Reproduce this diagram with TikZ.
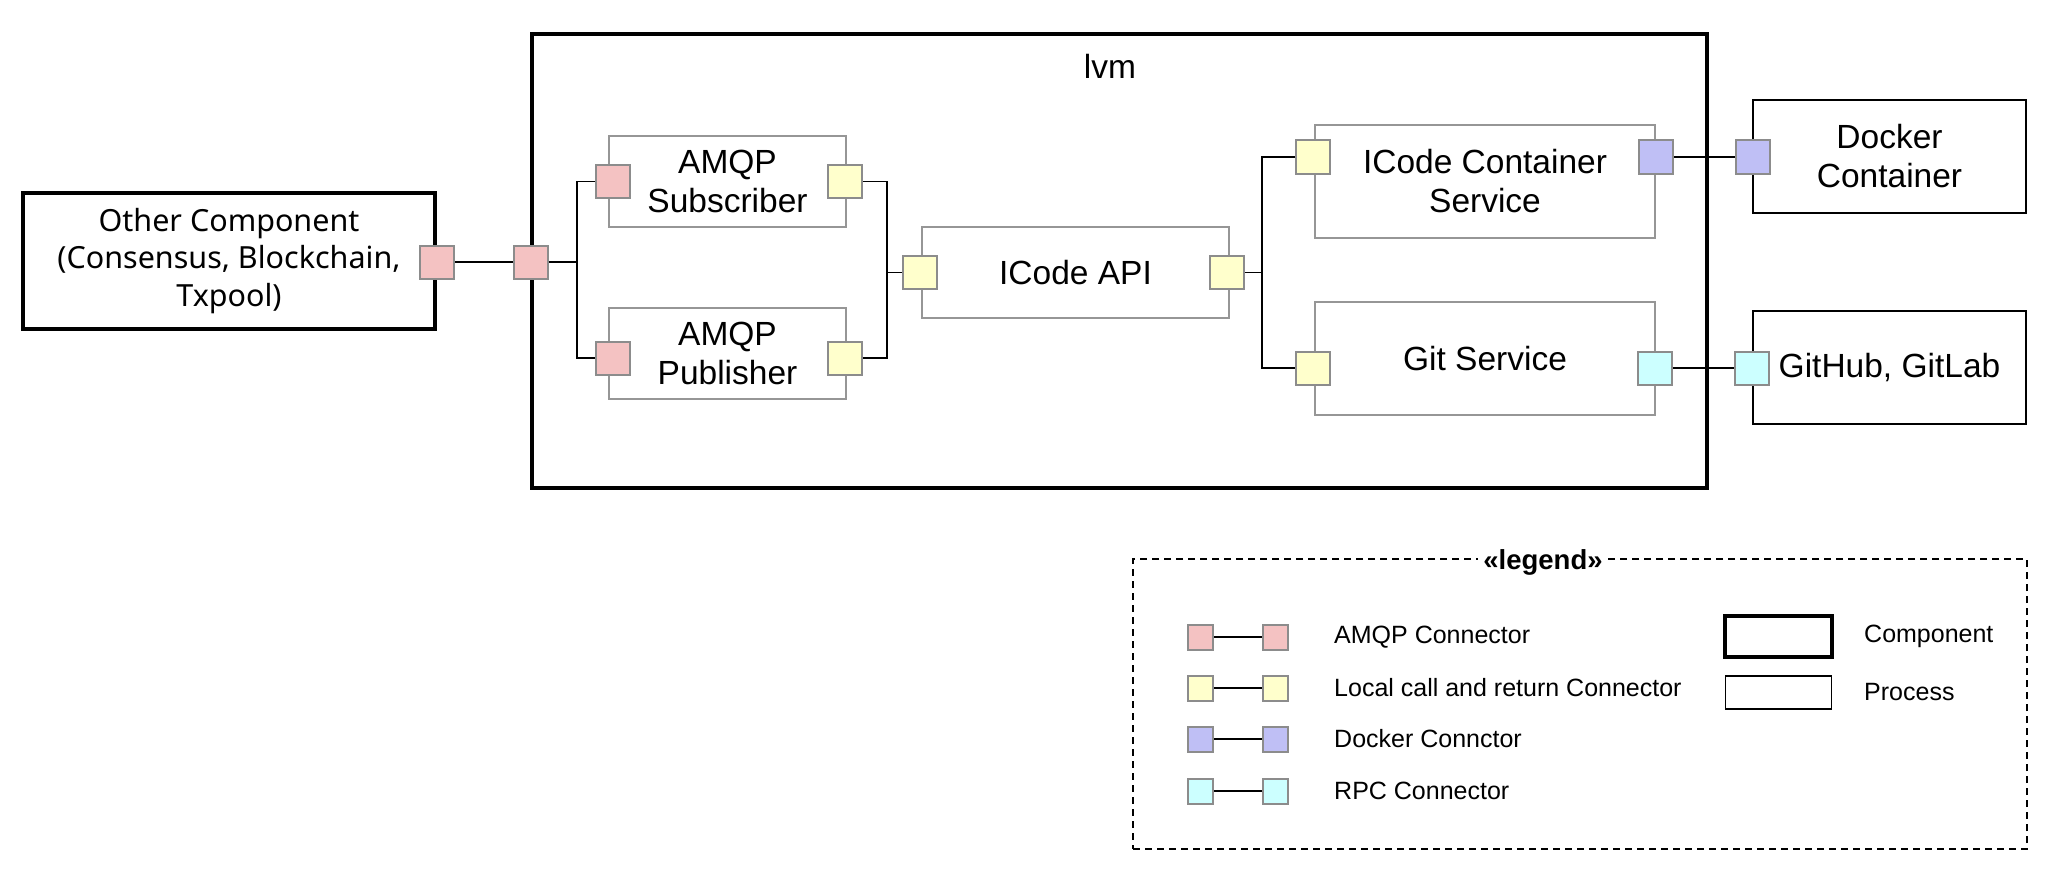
\documentclass[tikz,border=0pt]{standalone}
\usepackage{fontspec}
\setmainfont{Liberation Sans}
\newfontfamily\otherfont{Noto Sans}
\definecolor{amqpc}{RGB}{244,194,194}
\definecolor{localc}{RGB}{255,255,204}
\definecolor{dockc}{RGB}{191,191,245}
\definecolor{rpcc}{RGB}{204,255,255}
\definecolor{portborder}{RGB}{140,140,140}
\definecolor{procborder}{RGB}{150,150,150}
\begin{document}
\begin{tikzpicture}[x=1pt,y=-1pt,
  port/.style={draw=portborder, line width=2pt, minimum width=34pt, minimum height=33pt, inner sep=0pt},
  lport/.style={port, minimum width=25pt, minimum height=25pt},
  proc/.style={draw=procborder, line width=2pt, align=center, inner sep=0pt, font=\fontsize{33.5}{39}\selectfont},
  comp/.style={draw=black, line width=3.3pt, align=center, inner sep=0pt},
  ext/.style={draw=black, line width=2pt, align=center, inner sep=0pt, font=\fontsize{33.5}{39}\selectfont},
  wire/.style={draw=black, line width=1.7pt},
  legtext/.style={anchor=west, inner sep=0pt, font=\fontsize{25}{30}\selectfont}]
\useasboundingbox[fill=white] (0,0) rectangle (2064,872);

% components and processes
\node[comp, minimum width=412pt, minimum height=136pt, font=\otherfont\fontsize{30.5}{37.5}\selectfont] (other) at (229,261) {Other Component\\(Consensus, Blockchain,\\Txpool)};
\node[comp, minimum width=1175pt, minimum height=454pt] (lvm) at (1119.5,261) {};
\node[inner sep=0pt, font=\fontsize{33.5}{39}\selectfont] (lvmlabel) at (1110,66) {lvm};
\node[proc, minimum width=237pt, minimum height=91pt] (sub) at (727.5,181.5) {AMQP\\Subscriber};
\node[proc, minimum width=237pt, minimum height=91pt] (pub) at (727.5,353.5) {AMQP\\Publisher};
\node[proc, minimum width=307pt, minimum height=91pt] (api) at (1075.5,272.5) {ICode API};
\node[proc, minimum width=340pt, minimum height=113pt] (cs) at (1485,181.5) {ICode Container\\Service};
\node[proc, minimum width=340pt, minimum height=113pt] (gs) at (1485,358.5) {Git Service};
\node[ext, minimum width=273pt, minimum height=113pt] (dock) at (1889.5,156.5) {Docker\\Container};
\node[ext, minimum width=273pt, minimum height=113pt] (gh) at (1889.5,367.5) {GitHub, GitLab};

% ports
\node[port, fill=amqpc] (op) at (437,262) {};
\node[port, fill=amqpc] (lp) at (530.5,262) {};
\node[port, fill=amqpc] (sl) at (613,181.5) {};
\node[port, fill=localc] (sr) at (845,181.5) {};
\node[port, fill=amqpc] (pl) at (613,358) {};
\node[port, fill=localc] (pr) at (845,358) {};
\node[port, fill=localc] (apil) at (920,272.5) {};
\node[port, fill=localc] (apir) at (1227,272.5) {};
\node[port, fill=localc] (csl) at (1313,157) {};
\node[port, fill=dockc] (csr) at (1656,157) {};
\node[port, fill=localc] (gsl) at (1313,368) {};
\node[port, fill=rpcc] (gsr) at (1655,368) {};
\node[port, fill=dockc] (dkp) at (1753,157) {};
\node[port, fill=rpcc] (ghp) at (1752,368) {};

% junctions
\coordinate (j1) at (577,262);
\coordinate (j2) at (887,272.5);
\coordinate (j3) at (1262,272.5);

% connectors
\draw[wire] (op.east) -- (lp.west);
\draw[wire] (lp.east) -- (j1);
\draw[wire] (sl.west) -| (j1) |- (pl.west);
\draw[wire] (sr.east) -| (j2) |- (pr.east);
\draw[wire] (j2) -- (apil.west);
\draw[wire] (apir.east) -- (j3);
\draw[wire] (csl.west) -| (j3) |- (gsl.west);
\draw[wire] (csr.east) -- (dkp.west);
\draw[wire] (gsr.east) -- (ghp.west);

% legend
\node[draw=black, line width=1.5pt, dash pattern=on 7pt off 5pt, minimum width=894pt, minimum height=290pt] (legend) at (1580,704) {};
\node[fill=white, inner sep=5pt, font=\bfseries\fontsize{27.5}{32}\selectfont] (legtitle) at (1543,562) {«legend»};

\node[lport, fill=amqpc] (la1) at (1200.5,637) {};
\node[lport, fill=amqpc] (lb1) at (1275.5,637) {};
\draw[wire] (la1.east) -- (lb1.west);
\node[legtext] (lt1) at (1334,637) {AMQP Connector};

\node[lport, fill=localc] (la2) at (1200.5,688) {};
\node[lport, fill=localc] (lb2) at (1275.5,688) {};
\draw[wire] (la2.east) -- (lb2.west);
\node[legtext] (lt2) at (1334,688) {Local call and return Connector};

\node[lport, fill=dockc] (la3) at (1200.5,739) {};
\node[lport, fill=dockc] (lb3) at (1275.5,739) {};
\draw[wire] (la3.east) -- (lb3.west);
\node[legtext] (lt3) at (1334,739) {Docker Connctor};

\node[lport, fill=rpcc] (la4) at (1200.5,791) {};
\node[lport, fill=rpcc] (lb4) at (1275.5,791) {};
\draw[wire] (la4.east) -- (lb4.west);
\node[legtext] (lt4) at (1334,791) {RPC Connector};

\node[draw=black, line width=3.3pt, minimum width=107pt, minimum height=41pt] (lcomp) at (1778.5,636.5) {};
\node[legtext] (lct) at (1864,636) {Component};
\node[draw=black, line width=1.5pt, minimum width=106pt, minimum height=33pt] (lproc) at (1778.5,692.5) {};
\node[legtext] (lpt) at (1864,692) {Process};
\end{tikzpicture}
\end{document}
